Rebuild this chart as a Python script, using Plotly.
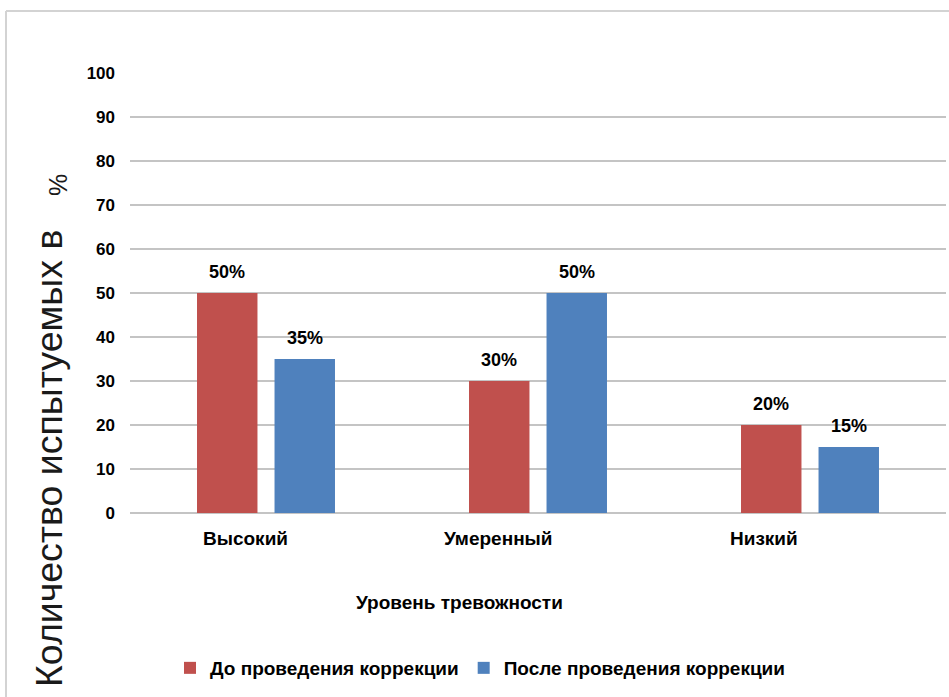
import plotly.graph_objects as go

# --- data -------------------------------------------------------------
categories = ["Высокий", "Умеренный", "Низкий"]
before_values = [50, 30, 20]
after_values = [35, 50, 15]
series_names = ["До проведения коррекции", "После проведения коррекции"]
y_ticks = list(range(0, 101, 10))

x_title = "Уровень тревожности"
y_title = "Количество испытуемых в"
y_title_unit = "%"

# --- style ------------------------------------------------------------
W, H = 949, 697
L, R, T, B = 130, 3, 73, 184
BARGAP = 0.43
GROUPGAP = 0.22
FONT = "Liberation Sans, Arial, sans-serif"
RED = "#C0504D"
BLUE = "#4F81BD"
GRID = "#C4C4C4"
label_shift = [-21, -40, -46]  # horizontal nudge of category labels, px


def px_x(px):
    return (px - L) / (W - L - R)


def px_y(py):
    return (H - B - py) / (H - T - B)


fig = go.Figure()
for name, vals, color in [(series_names[0], before_values, RED),
                          (series_names[1], after_values, BLUE)]:
    fig.add_trace(go.Bar(
        x=categories, y=vals, name=name,
        marker=dict(color=color, line=dict(width=0)),
        hoverinfo="skip",
    ))

# value labels above every bar
half = (1 - BARGAP) / 4
annotations = []
for k, vals in enumerate([before_values, after_values]):
    off = -half if k == 0 else half
    for i, v in enumerate(vals):
        annotations.append(dict(
            x=i + off, y=v, xref="x", yref="y", text=f"{v}%",
            showarrow=False, yanchor="middle", yshift=21,
            font=dict(family=FONT, size=18, color="black", weight="bold"),
        ))

# category labels
for i, c in enumerate(categories):
    annotations.append(dict(
        x=i, y=px_y(538), xref="x", yref="paper", text=c,
        showarrow=False, xanchor="center", yanchor="middle",
        xshift=label_shift[i],
        font=dict(family=FONT, size=19, color="black", weight="bold"),
    ))

# axis titles
annotations.append(dict(
    x=px_x(459), y=px_y(602), xref="paper", yref="paper", text=x_title,
    showarrow=False, xanchor="center", yanchor="middle",
    font=dict(family=FONT, size=19, color="black", weight="bold"),
))
annotations.append(dict(
    x=px_x(49), y=px_y(459), xref="paper", yref="paper", text=y_title,
    showarrow=False, xanchor="center", yanchor="middle", textangle=-90,
    font=dict(family=FONT, size=37.5, color="#1a1a1a"),
))
annotations.append(dict(
    x=px_x(58), y=px_y(185), xref="paper", yref="paper", text=y_title_unit,
    showarrow=False, xanchor="center", yanchor="middle", textangle=-90,
    font=dict(family=FONT, size=25, color="#1a1a1a"),
))

# outer chart frame (top and left edges visible)
shapes = [
    dict(type="line", xref="paper", yref="paper",
         x0=px_x(6), x1=px_x(W + 5), y0=px_y(11), y1=px_y(11),
         line=dict(color="#D3D3D3", width=2)),
    dict(type="line", xref="paper", yref="paper",
         x0=px_x(6), x1=px_x(6), y0=px_y(11), y1=px_y(H + 5),
         line=dict(color="#D3D3D3", width=2)),
]

fig.update_layout(
    width=W, height=H,
    margin=dict(l=L, r=R, t=T, b=B, pad=0),
    paper_bgcolor="white", plot_bgcolor="white",
    barmode="group", bargap=BARGAP, bargroupgap=GROUPGAP,
    showlegend=True,
    legend=dict(
        orientation="h", x=px_x(170), xanchor="left",
        y=px_y(668), yanchor="middle",
        font=dict(family=FONT, size=19, color="black", weight="bold"),
        itemclick=False, itemdoubleclick=False,
    ),
    annotations=annotations,
    shapes=shapes,
    hovermode=False,
)
fig.update_xaxes(showticklabels=False, showgrid=False, zeroline=False,
                 showline=False, ticks="")
fig.update_yaxes(range=[0, 100], tickvals=y_ticks, ticks="",
                 showgrid=True, gridcolor=GRID, gridwidth=1.6,
                 zeroline=True, zerolinecolor=GRID, zerolinewidth=1.6,
                 showline=False, ticklabelstandoff=14,
                 tickfont=dict(family=FONT, size=17, color="black",
                               weight="bold"))

fig.write_html("out.html", config={"displayModeBar": False})
